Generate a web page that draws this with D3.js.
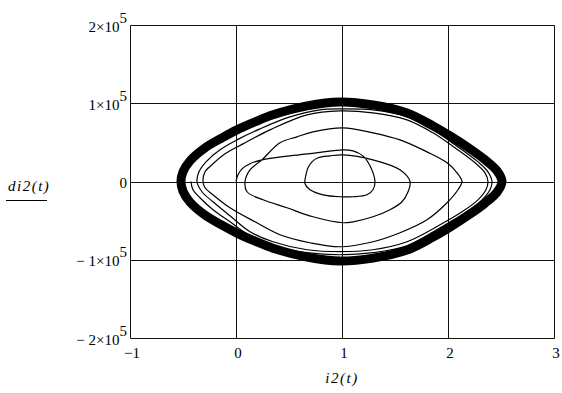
<!DOCTYPE html>
<html>
<head>
<meta charset="utf-8">
<script src="https://cdn.jsdelivr.net/npm/d3@7"></script>
<style>
  html, body { margin: 0; padding: 0; background: #fff; }
  svg { display: block; }
  text { font-family: "Liberation Serif", "Times New Roman", serif; fill: #000; }
</style>
</head>
<body>
<svg id="chart" width="562" height="393"></svg>
<script>
// Axis ticks
const xTicks = [-1, 0, 1, 2, 3];
const yTicks = [-2e5, -1e5, 0, 1e5, 2e5];
const yTickLabels = ["\u2212 2\u00d710", "\u2212 1\u00d710", "0", "1\u00d710", "2\u00d710"];
const yTickExponents = ["5", "5", "", "5", "5"];

// Transient trajectory: i2(t) and di2(t), spiralling out from the origin
const spiralI2 = [
  0, 0.019, 0.057, 0.132, 0.245, 0.509, 0.755, 1.009, 1.104, 1.198, 1.264, 1.311,
  1.292, 1.236, 1.104, 0.981, 0.821, 0.698, 0.651, 0.660, 0.679, 0.717, 0.774, 0.887, 1.009,
  1.292, 1.547, 1.642, 1.623, 1.566, 1.453, 1.292, 1.104, 1.009, 0.726, 0.481, 0.255, 0.104, 0.085, 0.132, 0.245,
  0.415, 0.575, 0.726, 1.009, 1.292, 1.547, 1.802, 1.991, 2.085, 2.132, 2.094, 1.991, 1.802, 1.547, 1.292,
  0.981, 0.698, 0.415, 0.179, -0.057, -0.217, -0.292, -0.311,
  -0.292, -0.217, -0.104, 0.066, 0.321, 0.670, 0.981, 1.292, 1.613, 1.858, 2.066, 2.255, 2.349, 2.377,
  2.358, 2.283, 2.132, 1.925, 1.613, 1.292, 0.981, 0.670, 0.349, 0.132, -0.057, -0.217, -0.321, -0.368,
  -0.349, -0.283, -0.151, 0.009, 0.226, 0.509, 0.792, 0.981, 1.292, 1.613, 1.858, 2.066, 2.283, 2.377, 2.415,
  2.396, 2.321, 2.160, 1.925, 1.613, 1.292, 0.981, 0.670, 0.349, 0.132, -0.057, -0.217, -0.340, -0.406, -0.425
];
const spiralDi2 = [
  0, 0.086e5, 0.162e5, 0.226e5, 0.277e5, 0.328e5, 0.366e5, 0.405e5, 0.392e5, 0.328e5, 0.200e5, 0,
  -0.106e5, -0.170e5, -0.195e5, -0.195e5, -0.170e5, -0.106e5, -0.029e5, 0.086e5, 0.175e5, 0.251e5, 0.303e5, 0.328e5, 0.341e5,
  0.277e5, 0.149e5, 0, -0.131e5, -0.259e5, -0.361e5, -0.451e5, -0.515e5, -0.527e5, -0.451e5, -0.336e5, -0.234e5, -0.131e5, 0, 0.149e5, 0.277e5,
  0.494e5, 0.571e5, 0.634e5, 0.686e5, 0.622e5, 0.532e5, 0.379e5, 0.239e5, 0.111e5, 0, -0.106e5, -0.272e5, -0.489e5, -0.655e5, -0.770e5,
  -0.834e5, -0.783e5, -0.680e5, -0.515e5, -0.336e5, -0.170e5, -0.080e5, 0,
  0.124e5, 0.226e5, 0.354e5, 0.481e5, 0.660e5, 0.852e5, 0.903e5, 0.877e5, 0.788e5, 0.622e5, 0.430e5, 0.239e5, 0.111e5, 0,
  -0.106e5, -0.234e5, -0.387e5, -0.553e5, -0.770e5, -0.872e5, -0.897e5, -0.872e5, -0.770e5, -0.642e5, -0.438e5, -0.259e5, -0.131e5, 0,
  0.124e5, 0.251e5, 0.405e5, 0.532e5, 0.673e5, 0.826e5, 0.915e5, 0.928e5, 0.915e5, 0.826e5, 0.660e5, 0.469e5, 0.251e5, 0.124e5, 0,
  -0.106e5, -0.234e5, -0.400e5, -0.591e5, -0.821e5, -0.910e5, -0.936e5, -0.910e5, -0.821e5, -0.693e5, -0.515e5, -0.361e5, -0.208e5, -0.106e5, 0
];

// Steady-state limit cycle (drawn as a heavy band of overlapping turns)
const cycleI2 = [
  -0.519, -0.500, -0.434, -0.292, -0.132, 0.009, 0.179, 0.349, 0.670, 0.981, 1.292, 1.613, 1.858,
  2.019, 2.208, 2.349, 2.462, 2.509,
  2.462, 2.349, 2.208, 2.019, 1.858, 1.613, 1.292, 0.981, 0.670, 0.349, 0.179, 0.009, -0.132,
  -0.292, -0.434, -0.500
];
const cycleDi2 = [
  0, 0.124e5, 0.264e5, 0.430e5, 0.558e5, 0.660e5, 0.762e5, 0.852e5, 0.966e5, 1.017e5, 0.979e5, 0.877e5, 0.711e5,
  0.583e5, 0.417e5, 0.277e5, 0.137e5, 0,
  -0.137e5, -0.277e5, -0.417e5, -0.583e5, -0.711e5, -0.877e5, -0.979e5, -1.017e5, -0.966e5, -0.852e5, -0.762e5, -0.660e5, -0.558e5,
  -0.430e5, -0.264e5, -0.124e5
];

const svg = d3.select("#chart");
const plot = { left: 130, right: 554, top: 25, bottom: 338 };

const x = d3.scaleLinear().domain([-1, 3]).range([plot.left, plot.right]);
const y = d3.scaleLinear().domain([-2e5, 2e5]).range([plot.bottom, plot.top]);

const crisp = v => Math.round(v) + 0.5;

// Grid
const grid = svg.append("g").attr("stroke", "#111").attr("stroke-width", 1).attr("fill", "none");
grid.selectAll("line.v").data(xTicks).join("line")
  .attr("x1", d => crisp(x(d))).attr("x2", d => crisp(x(d)))
  .attr("y1", crisp(y(2e5))).attr("y2", crisp(y(-2e5)));
grid.selectAll("line.h").data(yTicks).join("line")
  .attr("y1", d => crisp(y(d))).attr("y2", d => crisp(y(d)))
  .attr("x1", crisp(x(-1))).attr("x2", crisp(x(3)));

// Curves
const spiral = d3.range(spiralI2.length).map(k => [spiralI2[k], spiralDi2[k]]);
const cycle = d3.range(cycleI2.length).map(k => [cycleI2[k], cycleDi2[k]]);

const curves = svg.append("g");

curves.append("path")
  .datum(cycle)
  .attr("fill", "none")
  .attr("stroke", "#000")
  .attr("stroke-width", 9)
  .attr("d", d3.line().x(d => x(d[0])).y(d => y(d[1])).curve(d3.curveCatmullRomClosed.alpha(0.5)));

curves.append("path")
  .datum(spiral)
  .attr("fill", "none")
  .attr("stroke", "#000")
  .attr("stroke-width", 1.2)
  .attr("stroke-linejoin", "round")
  .attr("d", d3.line().x(d => x(d[0])).y(d => y(d[1])).curve(d3.curveCatmullRom.alpha(0.5)));

// X tick labels
svg.append("g").selectAll("text").data(xTicks).join("text")
  .attr("x", d => x(d) + 2)
  .attr("y", 358)
  .attr("text-anchor", "middle")
  .attr("font-size", 15)
  .text(d => d < 0 ? "\u2212" + Math.abs(d) : String(d));

// Y tick labels with superscript exponent
const yl = svg.append("g").selectAll("text").data(yTicks).join("text")
  .attr("x", 127)
  .attr("y", d => y(d) + 6.5)
  .attr("text-anchor", "end")
  .attr("font-size", 15);
yl.append("tspan").text((d, k) => yTickLabels[k]);
yl.append("tspan").attr("dy", -9).text((d, k) => yTickExponents[k]);

// Axis titles
svg.append("text")
  .attr("x", 342).attr("y", 383)
  .attr("text-anchor", "middle")
  .attr("font-size", 15)
  .attr("font-style", "italic")
  .attr("letter-spacing", 1.5)
  .text("i2(t)");

svg.append("text")
  .attr("x", 8).attr("y", 191)
  .attr("font-size", 15)
  .attr("font-style", "italic")
  .attr("letter-spacing", 1.5)
  .text("di2(t)");
svg.append("line")
  .attr("x1", 6).attr("x2", 47)
  .attr("y1", 200.5).attr("y2", 200.5)
  .attr("stroke", "#000").attr("stroke-width", 1);
</script>
</body>
</html>
